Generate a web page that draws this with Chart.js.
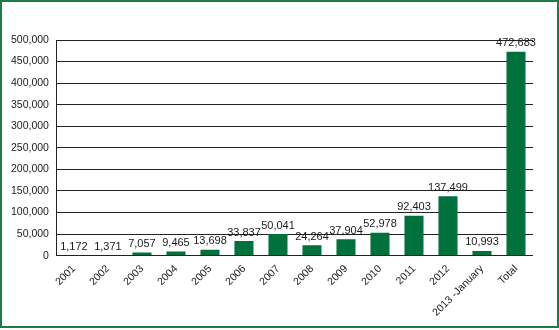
<!DOCTYPE html>
<html><head><meta charset="utf-8">
<script src="https://cdn.jsdelivr.net/npm/chart.js@4"></script>
<style>
html,body{margin:0;padding:0;background:#fff;}
#wrap{position:absolute;left:0;top:0;width:555px;height:324px;border:2px solid #1e7b45;}
canvas{display:block;}
</style></head><body>
<div id="wrap"><canvas id="c" width="555" height="324"></canvas></div>
<script>
const categories = ["2001","2002","2003","2004","2005","2006","2007","2008","2009","2010","2011","2012","2013 -January","Total"];
const values = [1172,1371,7057,9465,13698,33837,50041,24264,37904,52978,92403,137499,10993,472683];
const yTicks = [0,50000,100000,150000,200000,250000,300000,350000,400000,450000,500000];
const FONT = "'Liberation Sans', Arial, sans-serif";

const labelPlugin = {
  id:'barLabels',
  afterDatasetsDraw(chart){
    const ctx = chart.ctx;
    const meta = chart.getDatasetMeta(0);
    ctx.save();
    ctx.font = "11px " + FONT;
    ctx.fillStyle = "#1a1a1a";
    ctx.textAlign = "center";
    ctx.textBaseline = "bottom";
    meta.data.forEach((bar,i)=>{
      ctx.fillText(values[i].toLocaleString('en-US'), bar.x, bar.y - 3);
    });
    ctx.restore();
  }
};

new Chart(document.getElementById('c'), {
  type:'bar',
  data:{labels:categories, datasets:[{data:values, backgroundColor:'#00703c', barPercentage:0.56, categoryPercentage:1}]},
  options:{
    responsive:false, animation:false,
    layout:{padding:{top:38,right:24,left:1,bottom:0}},
    plugins:{legend:{display:false}, tooltip:{enabled:false}},
    scales:{
      x:{grid:{display:false, drawTicks:false}, border:{display:false},
         ticks:{color:'#1a1a1a', font:{family:FONT,size:10.5}, minRotation:45, maxRotation:45, padding:7, autoSkip:false}},
      y:{min:0,max:500000,
         afterBuildTicks(ax){ ax.ticks = yTicks.map(v=>({value:v})); },
         grid:{color:'#222', lineWidth:1, drawTicks:false},
         border:{display:true,color:'#222'},
         ticks:{color:'#1a1a1a', font:{family:FONT,size:10.5}, padding:8, callback:v=>v.toLocaleString('en-US')}}
    }
  },
  plugins:[labelPlugin]
});
</script></body></html>
